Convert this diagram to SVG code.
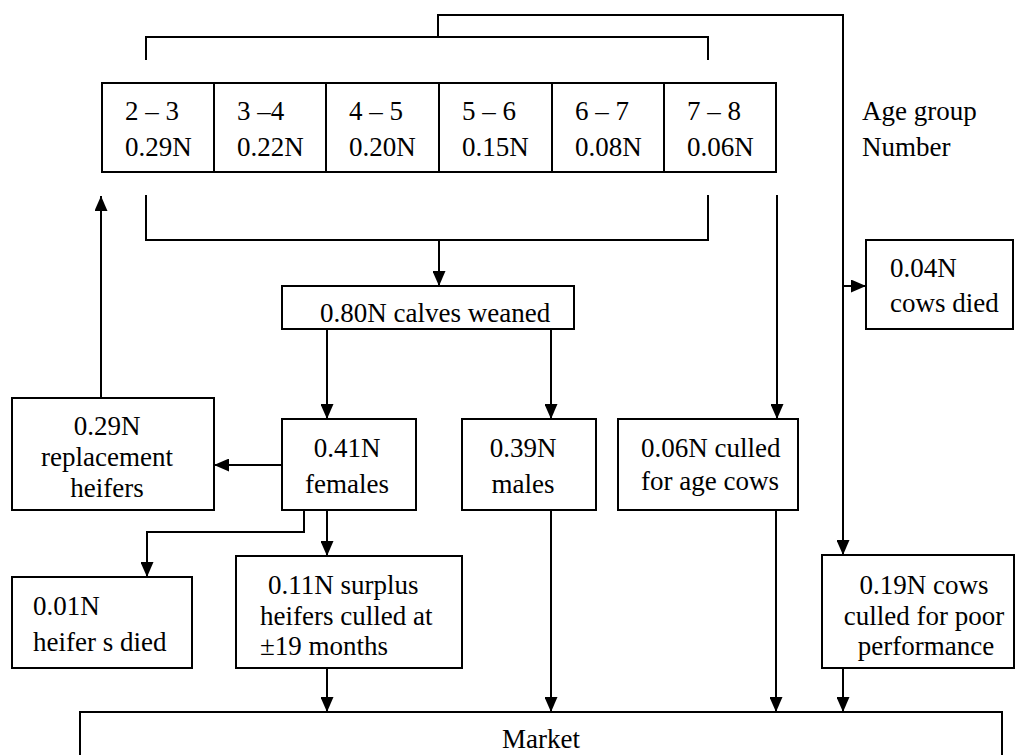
<svg xmlns="http://www.w3.org/2000/svg" width="1016" height="755" viewBox="0 0 1016 755" font-family="Liberation Serif, Times New Roman, DejaVu Serif, serif" font-size="27">
<style>
text{font-family:'Liberation Serif','Times New Roman','DejaVu Serif',serif;font-size:27px;fill:#000}
.m{text-anchor:middle}
.box{fill:#fff;stroke:#000;stroke-width:2}
.ln{fill:none;stroke:#000;stroke-width:2}
.ar{fill:none;stroke:#000;stroke-width:2;marker-end:url(#ah)}
</style>
<defs>
<marker id="ah" markerUnits="userSpaceOnUse" markerWidth="15" markerHeight="13" refX="15" refY="6.5" orient="auto">
<path d="M0,0 L15,6.5 L0,13 z" fill="#000"/>
</marker>
</defs>
<rect width="1016" height="755" fill="#fff"/>
<g id="connectors">
<path class="ln" d="M438,37 V15 H843 V286"/>
<path class="ar" d="M843,286 V555"/>
<path class="ar" d="M843,286 H866"/>
<path class="ln" d="M146,60 V37 H708 V60"/>
<path class="ln" d="M146,195 V240 H708 V195"/>
<path class="ar" d="M439,240 V286"/>
<path class="ar" d="M777,195 V419"/>
<path class="ar" d="M327,329 V419"/>
<path class="ar" d="M551,329 V419"/>
<path class="ar" d="M282,465 H214"/>
<path class="ar" d="M101,398 V196"/>
<path class="ar" d="M304,510 V532 H147 V577"/>
<path class="ar" d="M327,510 V556"/>
<path class="ar" d="M327,668 V712"/>
<path class="ar" d="M551,510 V712"/>
<path class="ar" d="M776,510 V712"/>
<path class="ar" d="M843,668 V712"/>
</g>
<g id="age-table">
<rect class="box" x="102" y="83" width="674" height="89"/>
<path class="ln" d="M214,83 V172 M326,83 V172 M439,83 V172 M552,83 V172 M664,83 V172"/>
<text x="125" y="120">2 – 3</text><text x="125" y="156">0.29N</text>
<text x="237" y="120">3 –4</text><text x="237" y="156">0.22N</text>
<text x="349" y="120">4 – 5</text><text x="349" y="156">0.20N</text>
<text x="462" y="120">5 – 6</text><text x="462" y="156">0.15N</text>
<text x="575" y="120">6 – 7</text><text x="575" y="156">0.08N</text>
<text x="687" y="120">7 – 8</text><text x="687" y="156">0.06N</text>
</g>
<g id="legend">
<text x="862" y="120">Age group</text>
<text x="862" y="156">Number</text>
</g>
<g id="calves">
<rect class="box" x="282" y="286" width="292" height="43"/>
<text x="320" y="322">0.80N calves weaned</text>
</g>
<g id="cows-died">
<rect class="box" x="866" y="240" width="147" height="89"/>
<text x="890" y="277">0.04N</text>
<text x="890" y="312">cows died</text>
</g>
<g id="replacement">
<rect class="box" x="12" y="398" width="202" height="112"/>
<text class="m" x="107" y="435">0.29N</text>
<text class="m" x="107" y="466">replacement</text>
<text class="m" x="107" y="497">heifers</text>
</g>
<g id="females">
<rect class="box" x="282" y="419" width="134" height="91"/>
<text class="m" x="347" y="457">0.41N</text>
<text class="m" x="347" y="493">females</text>
</g>
<g id="males">
<rect class="box" x="462" y="419" width="134" height="91"/>
<text class="m" x="523" y="457">0.39N</text>
<text class="m" x="523" y="493">males</text>
</g>
<g id="culled-age">
<rect class="box" x="618" y="419" width="180" height="91"/>
<text x="641" y="457">0.06N culled</text>
<text x="641" y="490">for age cows</text>
</g>
<g id="heifers-died">
<rect class="box" x="12" y="577" width="180" height="91"/>
<text x="33" y="615">0.01N</text>
<text x="33" y="651">heifer s died</text>
</g>
<g id="surplus">
<rect class="box" x="236" y="556" width="226" height="112"/>
<text x="268" y="594">0.11N surplus</text>
<text x="260" y="625">heifers culled at</text>
<text x="260" y="655">±19 months</text>
</g>
<g id="poor-performance">
<rect class="box" x="822" y="555" width="192" height="113"/>
<text class="m" x="924" y="594">0.19N cows</text>
<text class="m" x="924" y="625">culled for poor</text>
<text class="m" x="926" y="655">performance</text>
</g>
<g id="market">
<rect class="box" x="80" y="712" width="922" height="60"/>
<text x="502" y="748">Market</text>
</g>
</svg>
